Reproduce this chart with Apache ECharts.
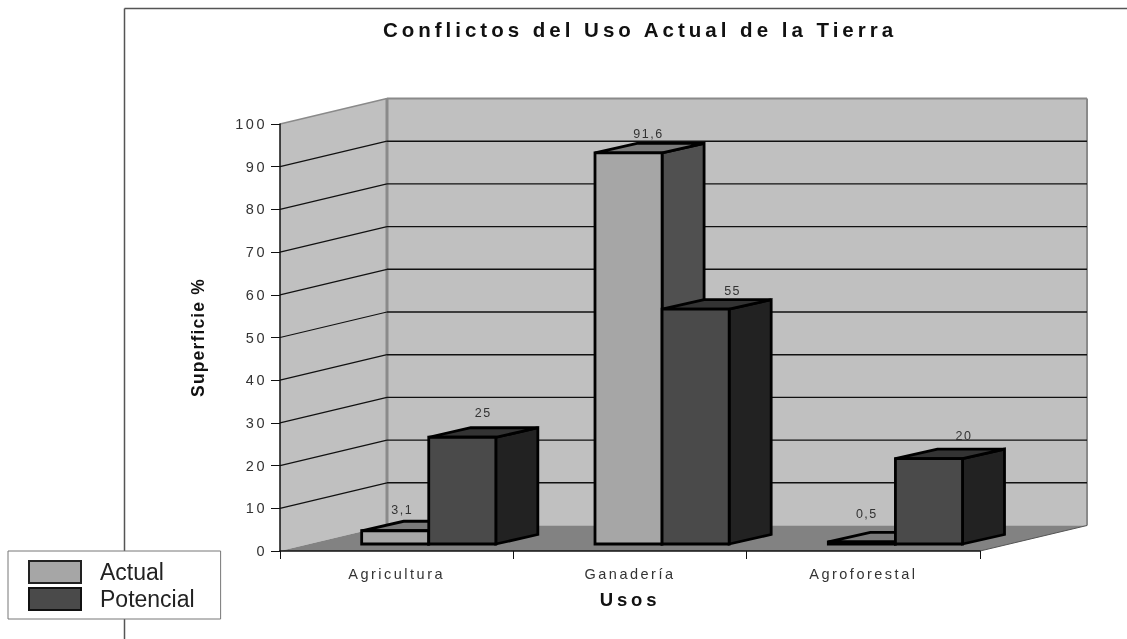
<!DOCTYPE html>
<html>
<head>
<meta charset="utf-8">
<style>
html,body{margin:0;padding:0;background:#fff}
#c{width:1127px;height:639px;filter:blur(0.35px)}
/* the text letter-spacing of the reference, keyed on font size */
text[style*="20.5px"]{letter-spacing:4px}
text[style*="18.5px"]{letter-spacing:3.8px}
text[style*="17.5px"]{letter-spacing:1.15px}
text[style*="14.5px"]{letter-spacing:2.5px}
text[style*="12.5px"]{letter-spacing:1.5px}
</style>
<script src="https://cdn.jsdelivr.net/npm/echarts@6/dist/echarts.min.js"></script>
</head>
<body>
<div id="c"></div>
<script>
const categories = ['Agricultura', 'Ganadería', 'Agroforestal'];
const actual = [3.1, 91.6, 0.5];
const potencial = [25, 55, 20];
const gridValues = [10, 20, 30, 40, 50, 60, 70, 80, 90];
const titleText = 'Conflictos del Uso Actual de la Tierra';
const xName = 'Usos';
const yName = 'Superficie %';

// 3D projection settings
const WALL = {dx: 107, dy: -25.5};
const BAR = {dx: 42, dy: -9.5, floorDy: -7, widthRatio: 0.2875, startShift: -35};
const NUDGE = {
  Actual: [[7, -21], [20, -19], [5, -28]],
  Potencial: [[21, -24], [37, -18], [35, -23]]
};
const fmt = v => String(v).replace('.', ',');

function poly(points, fill, stroke, lw) {
  return {type: 'polygon', shape: {points}, style: {fill, stroke: stroke || 'none', lineWidth: lw || 0, lineJoin: 'miter'}};
}
function seg(a, b, stroke, lw) {
  return {type: 'line', shape: {x1: a[0], y1: a[1], x2: b[0], y2: b[1]}, style: {stroke, lineWidth: lw}};
}

function renderWalls(params, api) {
  const g = params.coordSys;
  const L = g.x, R = g.x + g.width, T = g.y, B = g.y + g.height;
  const d = WALL;
  return {type: 'group', children: [
    poly([[L, T], [L + d.dx, T + d.dy], [L + d.dx, B + d.dy], [L, B]], '#c0c0c0'),
    poly([[L + d.dx, T + d.dy], [R + d.dx, T + d.dy], [R + d.dx, B + d.dy], [L + d.dx, B + d.dy]], '#c0c0c0'),
    poly([[L, B], [R, B], [R + d.dx, B + d.dy], [L + d.dx, B + d.dy]], '#828282'),
    seg([L, T], [L + d.dx, T + d.dy], '#8a8a8a', 1.5),
    seg([L + d.dx, T + d.dy], [R + d.dx, T + d.dy], '#8a8a8a', 2),
    seg([L + d.dx, T + d.dy], [L + d.dx, B + d.dy], '#8a8a8a', 3),
    seg([R + d.dx, T + d.dy], [R + d.dx, B + d.dy], '#8a8a8a', 2),
    seg([R, B], [R + d.dx, B + d.dy], '#555', 1)
  ]};
}
function renderGrid(params, api) {
  const g = params.coordSys;
  const y = api.coord([0, api.value(0)])[1];
  const L = g.x, R = g.x + g.width, d = WALL;
  return {type: 'group', children: [
    seg([L, y], [L + d.dx, y + d.dy], '#111', 1.2),
    seg([L + d.dx, y + d.dy], [R + d.dx, y + d.dy], '#111', 1.4)
  ]};
}
function renderBar(slot, cols, nudge) {
  return function (params, api) {
    const i = api.value(0), v = api.value(1);
    const c0 = api.coord([i, 0]), c1 = api.coord([i, v]);
    const w = api.size([1, 0])[0] * BAR.widthRatio;
    const x0 = c0[0] + BAR.startShift + slot * w, x1 = x0 + w;
    const yb = c0[1] + BAR.floorDy, yt = c1[1] + BAR.floorDy;
    const dx = BAR.dx, dy = BAR.dy, ink = '#000', lw = 2.8;
    return {type: 'group', children: [
      poly([[x1, yb], [x1 + dx, yb + dy], [x1 + dx, yt + dy], [x1, yt]], cols[2], ink, lw),
      poly([[x0, yt], [x1, yt], [x1 + dx, yt + dy], [x0 + dx, yt + dy]], cols[1], ink, lw),
      poly([[x0, yb], [x1, yb], [x1, yt], [x0, yt]], cols[0], ink, lw),
      {type: 'text', style: {
        text: fmt(v), x: (x0 + x1) / 2 + nudge[i][0], y: yt + nudge[i][1],
        align: 'center', verticalAlign: 'middle', fill: '#333',
        font: '12.5px "Liberation Sans"'
      }}
    ]};
  };
}

const chart = echarts.init(document.getElementById('c'), null, {renderer: 'svg'});
chart.setOption({
  animation: false,
  backgroundColor: '#fff',
  title: {
    text: titleText, left: 635, top: 14, textAlign: 'center',
    textStyle: {fontFamily: 'Liberation Sans', fontSize: 20.5, fontWeight: 'bold', color: '#111'}
  },
  grid: {left: 280, right: 147, top: 124, height: 427},
  legend: {
    left: 8, top: 551, orient: 'vertical', itemWidth: 52, itemHeight: 22, itemGap: 3,
    padding: [9, 26, 8, 20], icon: 'rect', backgroundColor: '#fff', borderColor: '#777', borderWidth: 1,
    textStyle: {fontFamily: 'Liberation Sans', fontSize: 23, color: '#222', padding: [0, 0, 0, 14]},
    data: ['Actual', 'Potencial'], selectedMode: false, z: 10
  },
  graphic: [
    {type: 'line', z: 0, shape: {x1: 124.5, y1: 8.5, x2: 1127, y2: 8.5}, style: {stroke: '#555', lineWidth: 1.5}},
    {type: 'line', z: 0, shape: {x1: 124.5, y1: 8.5, x2: 124.5, y2: 639}, style: {stroke: '#555', lineWidth: 1.5}}
  ],
  xAxis: {
    type: 'category', data: categories, name: xName, nameLocation: 'middle', nameGap: 39, z: 5,
    nameTextStyle: {fontFamily: 'Liberation Sans', fontSize: 18.5, fontWeight: 'bold', color: '#111'},
    axisLine: {lineStyle: {color: '#111', width: 1.5}},
    axisTick: {show: true, alignWithLabel: false, length: 8, lineStyle: {color: '#111', width: 1}},
    axisLabel: {fontFamily: 'Liberation Sans', fontSize: 14.5, color: '#333', margin: 15},
    splitLine: {show: false}
  },
  yAxis: {
    type: 'value', min: 0, max: 100, interval: 10, name: yName, nameLocation: 'middle', nameGap: 73, z: 5,
    nameTextStyle: {fontFamily: 'Liberation Sans', fontSize: 17.5, fontWeight: 'bold', color: '#111'},
    axisLine: {show: true, lineStyle: {color: '#111', width: 1.5}},
    axisTick: {show: true, length: 9, lineStyle: {color: '#111', width: 1}},
    axisLabel: {fontFamily: 'Liberation Sans', fontSize: 14.5, color: '#333', margin: 13},
    splitLine: {show: false}
  },
  series: [
    {type: 'custom', name: 'walls', z: 1, silent: true, data: [[0]], renderItem: renderWalls, clip: false, encode: {x: 0}},
    {type: 'custom', name: 'grid', z: 1.5, silent: true, data: gridValues.map(v => [v]), renderItem: renderGrid, clip: false, encode: {y: 0}},
    {type: 'custom', name: 'Actual', z: 3, itemStyle: {color: '#a6a6a6', borderColor: '#222', borderWidth: 1},
      data: actual.map((v, i) => [i, v]), encode: {x: 0, y: 1}, clip: false,
      renderItem: renderBar(0, ['#a6a6a6', '#7a7a7a', '#505050'], NUDGE.Actual)},
    {type: 'custom', name: 'Potencial', z: 4, itemStyle: {color: '#4a4a4a', borderColor: '#111', borderWidth: 1},
      data: potencial.map((v, i) => [i, v]), encode: {x: 0, y: 1}, clip: false,
      renderItem: renderBar(1, ['#4a4a4a', '#333333', '#222222'], NUDGE.Potencial)}
  ]
});
</script>
</body>
</html>
